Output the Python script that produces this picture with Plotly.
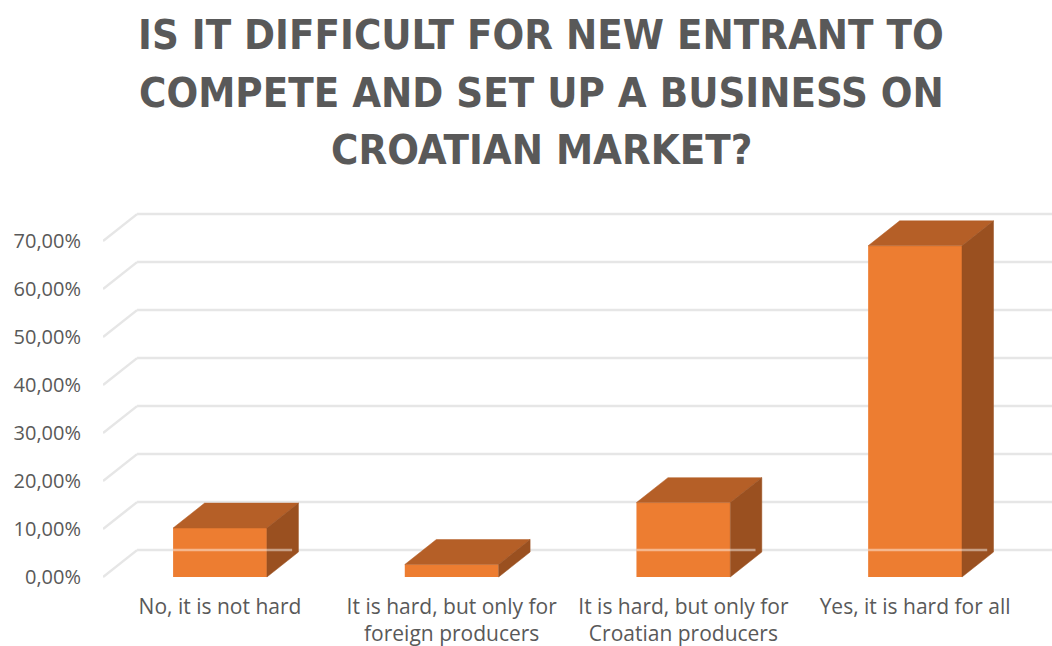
import plotly.graph_objects as go

# ---- data ----
categories = [
    "No, it is not hard",
    "It is hard, but only for<br>foreign producers",
    "It is hard, but only for<br>Croatian producers",
    "Yes, it is hard for all",
]
values = [10.2, 2.6, 15.5, 69.0]
y_ticks = [0, 10, 20, 30, 40, 50, 60, 70]
y_ticklabels = ["0,00%", "10,00%", "20,00%", "30,00%", "40,00%", "50,00%", "60,00%", "70,00%"]
title_lines = ["IS IT DIFFICULT FOR NEW ENTRANT TO",
               "COMPETE AND SET UP A BUSINESS ON",
               "CROATIAN MARKET?"]

# ---- style ----
FRONT = "#ED7D31"
TOP = "#B55F27"
SIDE = "#9A5020"
GRID = "#E6E6E6"
TEXT = "#595959"
BAR_W = 0.405
DX, DY = 0.136, 5.2      # bar depth (axis units)
GDX, GDY = 0.147, 5.6    # wall depth (axis units)
X0, X1 = -0.505, 3.591
Y0, Y1 = -0.625, 77.5
BODY_FONT = "'Open Sans', Lato, sans-serif"
TITLE_FONT = "'DejaVu Sans Condensed', 'Liberation Sans Narrow', sans-serif"

PLOT_TOP, PLOT_BOTTOM, PLOT_LEFT = 205, 580, 103

xs = list(range(len(categories)))
fig = go.Figure()

# front faces
fig.add_bar(x=xs, y=values, width=BAR_W, marker=dict(color=FRONT, line=dict(width=0)),
            hoverinfo="skip", showlegend=False)

# top and side faces
for x, v in zip(xs, values):
    l, r = x - BAR_W / 2, x + BAR_W / 2
    fig.add_scatter(x=[l, r, r + DX, l + DX, l], y=[v, v, v + DY, v + DY, v],
                    fill="toself", fillcolor=TOP, mode="lines",
                    line=dict(width=0.5, color=TOP), hoverinfo="skip", showlegend=False)
    fig.add_scatter(x=[r, r + DX, r + DX, r, r], y=[0, DY, v + DY, v, 0],
                    fill="toself", fillcolor=SIDE, mode="lines",
                    line=dict(width=0.5, color=SIDE), hoverinfo="skip", showlegend=False)

# gridlines on the side and back walls
shapes = []
for t in y_ticks:
    shapes.append(dict(type="line", xref="x", yref="y", x0=X0, y0=t, x1=X0 + GDX, y1=t + GDY,
                       line=dict(color=GRID, width=2.5), layer="below"))
    shapes.append(dict(type="line", xref="x", yref="y", x0=X0 + GDX, y0=t + GDY, x1=X1 + 0.2, y1=t + GDY,
                       line=dict(color=GRID, width=2.5), layer="below"))
# faint back-wall baseline showing through the bars
for x, v in zip(xs, values):
    if v > GDY:
        l, r = x - BAR_W / 2, x + BAR_W / 2
        shapes.append(dict(type="line", xref="x", yref="y", x0=l, y0=GDY, x1=r + DX * 0.8, y1=GDY,
                           line=dict(color="rgba(255,255,255,0.45)", width=2.5), layer="above"))

# title lines (centred at x=541 px, line centres at 34, 92, 149 px)
plot_h = PLOT_BOTTOM - PLOT_TOP
plot_w = 1052 - PLOT_LEFT
annotations = []
for line, cy in zip(title_lines, [34, 92, 149]):
    annotations.append(dict(text="<b>" + line + "</b>", xref="paper", yref="paper",
                            x=(541 - PLOT_LEFT) / plot_w, y=(PLOT_BOTTOM - cy) / plot_h,
                            xanchor="center", yanchor="middle", showarrow=False,
                            font=dict(family=TITLE_FONT, size=41.5, color=TEXT)))

fig.update_layout(
    width=1052, height=646,
    margin=dict(l=PLOT_LEFT, r=0, t=PLOT_TOP, b=646 - PLOT_BOTTOM, autoexpand=False),
    paper_bgcolor="white", plot_bgcolor="white",
    shapes=shapes, annotations=annotations,
    showlegend=False,
    font=dict(family=BODY_FONT, size=21, color=TEXT),
)
fig.update_xaxes(range=[X0, X1], tickvals=xs, ticktext=categories, showgrid=False, automargin=False,
                 zeroline=False, showline=False, ticks="", ticklabelstandoff=12,
                 tickfont=dict(family=BODY_FONT, size=21, color=TEXT))
fig.update_yaxes(range=[Y0, Y1], tickvals=y_ticks, ticktext=y_ticklabels, showgrid=False, automargin=False,
                 zeroline=False, showline=False, ticks="", ticklabelstandoff=21,
                 tickfont=dict(family=BODY_FONT, size=20, color=TEXT))

fig.write_html("out.html", config={"displayModeBar": False},
               post_script="document.body.style.margin='0';document.body.style.overflow='hidden';")
